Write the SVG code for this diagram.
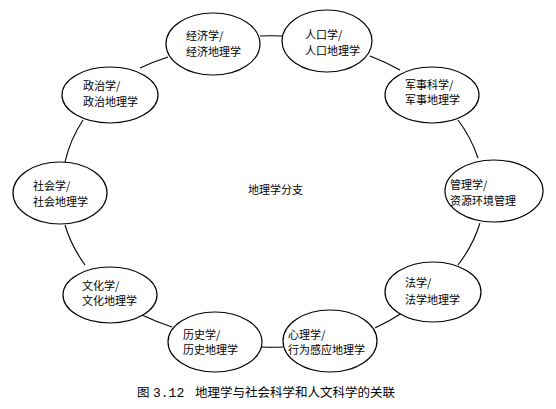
<svg xmlns="http://www.w3.org/2000/svg" width="556" height="409" viewBox="0 0 556 409">
<style>
.node ellipse{fill:#fff;stroke:#000;stroke-width:1.2}
.node text,.center{font-family:"Noto Sans CJK SC","Noto Sans",sans-serif;font-size:11px;fill:#000}
.conn path{fill:none;stroke:#000;stroke-width:1.1}
.cap{font-family:"Liberation Mono","Noto Sans CJK SC",monospace;font-size:13px;fill:#000}
.capc{font-family:"Noto Sans CJK SC",sans-serif;font-size:12.5px;fill:#000}
</style>
<rect width="556" height="409" fill="#fff"/>
<g id="connectors" class="conn">
<path d="M260,36 A210,155 0 0 1 283,36"/>
<path d="M370,56 A210,155 0 0 1 400,70"/>
<path d="M458,120 A210,155 0 0 1 478,158"/>
<path d="M480,223 A210,155 0 0 1 458,265"/>
<path d="M402,313 A210,155 0 0 1 375,328"/>
<path d="M283,347 A210,155 0 0 1 262,347"/>
<path d="M172,327 A210,155 0 0 1 142,315"/>
<path d="M85,265 A210,155 0 0 1 65,225"/>
<path d="M65,162 A210,155 0 0 1 83,120"/>
<path d="M140,68 A210,155 0 0 1 168,57"/>
</g>
<g id="econ" class="node"><ellipse cx="213" cy="44" rx="47" ry="31"/><text x="186" y="40">经济学/</text><text x="186" y="56">经济地理学</text></g>
<g id="pop" class="node"><ellipse cx="327" cy="41" rx="45" ry="31"/><text x="305" y="39">人口学/</text><text x="305" y="55">人口地理学</text></g>
<g id="pol" class="node"><ellipse cx="110" cy="95" rx="48" ry="28"/><text x="83" y="90">政治学/</text><text x="83" y="106">政治地理学</text></g>
<g id="mil" class="node"><ellipse cx="432" cy="95" rx="47" ry="28"/><text x="405" y="89">军事科学/</text><text x="405" y="104">军事地理学</text></g>
<g id="soc" class="node"><ellipse cx="60" cy="193" rx="47" ry="31"/><text x="33" y="190">社会学/</text><text x="33" y="206">社会地理学</text></g>
<g id="mgmt" class="node"><ellipse cx="494" cy="191" rx="49" ry="31"/><text x="450" y="189">管理学/</text><text x="450" y="205">资源环境管理</text></g>
<g id="cult" class="node"><ellipse cx="110" cy="295" rx="47" ry="28"/><text x="82" y="290">文化学/</text><text x="82" y="305">文化地理学</text></g>
<g id="law" class="node"><ellipse cx="433" cy="292" rx="48" ry="30"/><text x="405" y="287">法学/</text><text x="405" y="304">法学地理学</text></g>
<g id="hist" class="node"><ellipse cx="215" cy="342" rx="47" ry="30"/><text x="183" y="339">历史学/</text><text x="183" y="354">历史地理学</text></g>
<g id="psy" class="node"><ellipse cx="330" cy="341" rx="47" ry="31"/><text x="288" y="339">心理学/</text><text x="288" y="354">行为感应地理学</text></g>
<text class="center" x="248" y="194">地理学分支</text>
<text class="capc" x="137" y="397">图</text>
<text class="cap" x="153" y="397">3.12</text>
<text class="capc" x="195" y="397">地理学与社会科学和人文科学的关联</text>
</svg>
